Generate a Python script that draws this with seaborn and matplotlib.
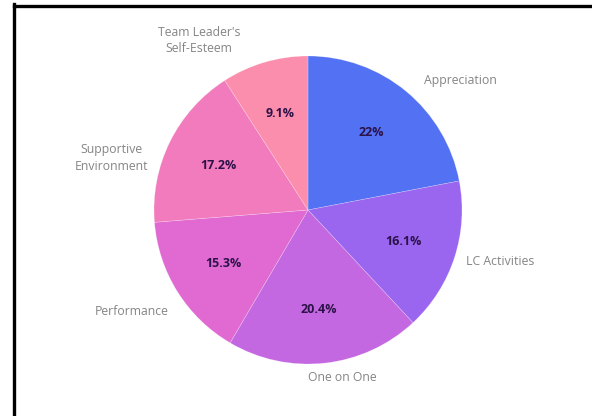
import matplotlib
matplotlib.use("Agg")
import matplotlib.pyplot as plt
from matplotlib.lines import Line2D
import numpy as np
import seaborn as sns

# Survey share per motivation factor (clockwise from 12 o'clock)
categories = ["Appreciation", "LC Activities", "One on One", "Performance",
              "Supportive\nEnvironment", "Team Leader's\nSelf-Esteem"]
shares = [22, 16.1, 20.4, 15.3, 17.2, 9.1]
share_labels = ["22%", "16.1%", "20.4%", "15.3%", "17.2%", "9.1%"]

slice_colors = ["#5371f3", "#9a66ef", "#c468e1", "#e06ad1", "#f27bbd", "#fc8ead"]

sns.set_theme(style="white")
plt.rcParams["font.family"] = ["Open Sans", "DejaVu Sans"]
palette = sns.color_palette(slice_colors)

W, H = 592, 416
fig = plt.figure(figsize=(W / 100, H / 100), dpi=100)
cx, cy, r = 308, 210, 154
ax = fig.add_axes([(cx - r) / W, (H - cy - r) / H, 2 * r / W, 2 * r / H])

wedges, _ = ax.pie(shares, colors=palette, startangle=90, counterclock=False,
                   radius=1.0, wedgeprops=dict(linewidth=0.4, edgecolor=(1, 1, 1, 0.35)))
ax.set_xlim(-1, 1)
ax.set_ylim(-1, 1)
ax.set_aspect("equal")
ax.axis("off")

# label placement: (angle nudge in degrees, radial distance)
label_style = [(-10, 1.30), (3, 1.29), (5.3, 1.11),
               (-2, 1.32), (11.5, 1.32), (16.4, 1.31)]

for w, name, pct, (dang, dist) in zip(wedges, categories, share_labels, label_style):
    mid = np.deg2rad((w.theta1 + w.theta2) / 2)
    ax.text(0.65 * np.cos(mid), 0.65 * np.sin(mid), pct, ha="center", va="center",
            fontsize=9, fontweight="bold", color="#2b1248")
    a = mid + np.deg2rad(dang)
    ax.text(dist * np.cos(a), dist * np.sin(a), name, ha="center", va="center",
            fontsize=8.8, color="#858585", linespacing=1.35, clip_on=False)

# frame lines along the top and left edges
fig.add_artist(Line2D([13.5 / W, 13.5 / W], [0, 1 - 4 / H], transform=fig.transFigure,
                      color="black", linewidth=2.4, solid_capstyle="projecting"))
fig.add_artist(Line2D([13.5 / W, 1], [1 - 5.5 / H, 1 - 5.5 / H], transform=fig.transFigure,
                      color="black", linewidth=2.4, solid_capstyle="projecting"))

fig.savefig("out.png", dpi=100)
